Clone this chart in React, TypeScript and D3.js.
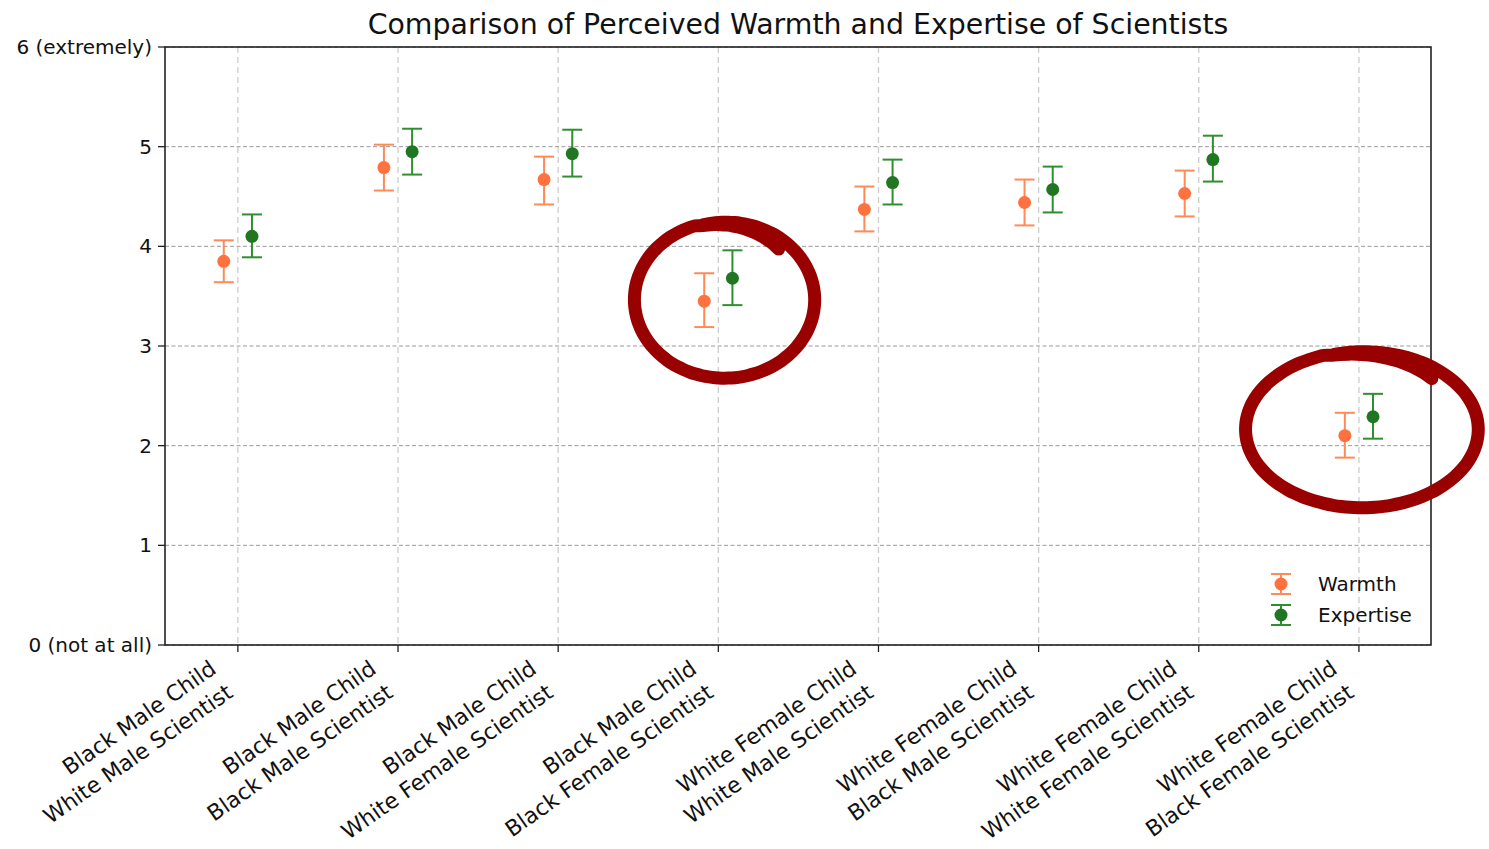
import React, { useEffect, useRef } from "react";
import * as d3 from "d3";

const childLabels = [
  "Black Male Child", "Black Male Child", "Black Male Child", "Black Male Child",
  "White Female Child", "White Female Child", "White Female Child", "White Female Child",
];
const scientistLabels = [
  "White Male Scientist", "Black Male Scientist", "White Female Scientist", "Black Female Scientist",
  "White Male Scientist", "Black Male Scientist", "White Female Scientist", "Black Female Scientist",
];
const warmthMean = [3.85, 4.79, 4.67, 3.45, 4.37, 4.44, 4.53, 2.10];
const warmthLow = [3.64, 4.56, 4.42, 3.19, 4.15, 4.21, 4.30, 1.88];
const warmthHigh = [4.06, 5.02, 4.90, 3.73, 4.60, 4.67, 4.76, 2.33];
const expertiseMean = [4.10, 4.95, 4.93, 3.68, 4.64, 4.57, 4.87, 2.29];
const expertiseLow = [3.89, 4.72, 4.70, 3.41, 4.42, 4.34, 4.65, 2.07];
const expertiseHigh = [4.32, 5.18, 5.17, 3.96, 4.87, 4.80, 5.11, 2.52];
const yTicks = [0, 1, 2, 3, 4, 5, 6];
const yTickLabels = ["0 (not at all)", "1", "2", "3", "4", "5", "6 (extremely)"];
// hand-drawn highlight annotations: centre in data units, radii in data units
const highlightCx = [3.04, 7.02];
const highlightCy = [3.47, 2.17];
const highlightRx = [0.55, 0.71];
const highlightRy = [0.77, 0.77];

const W = 1489;
const H = 849;
const FONT = "DejaVu Sans, sans-serif";

export default function App() {
  const ref = useRef<SVGSVGElement>(null);
  useEffect(() => {
    const svg = d3.select(ref.current);
    svg.selectAll("*").remove();
    const left = 165, right = 1431, top = 47, bottom = 645;
    const n = childLabels.length;
    const x = d3.scaleLinear().domain([-0.455, n - 1 + 0.45]).range([left, right]);
    const y = d3.scaleLinear().domain([0, 6]).range([bottom, top]);
    const off = 0.088;

    // grid
    const g = svg.append("g");
    g.selectAll("line.vg").data(d3.range(n)).join("line")
      .attr("x1", (i) => x(i)).attr("x2", (i) => x(i))
      .attr("y1", top).attr("y2", bottom)
      .attr("stroke", "#cccccc").attr("stroke-width", 1.3).attr("stroke-dasharray", "6,4");
    g.selectAll("line.hg").data(yTicks).join("line")
      .attr("x1", left).attr("x2", right)
      .attr("y1", (d) => y(d)).attr("y2", (d) => y(d))
      .attr("stroke", "#9a9a9a").attr("stroke-width", 1).attr("stroke-dasharray", "4,2.5");

    // axes frame
    svg.append("rect").attr("x", left).attr("y", top).attr("width", right - left).attr("height", bottom - top)
      .attr("fill", "none").attr("stroke", "#222").attr("stroke-width", 1.6);

    // y ticks
    const yt = svg.append("g");
    yTicks.forEach((t, i) => {
      yt.append("line").attr("x1", left - 7).attr("x2", left).attr("y1", y(t)).attr("y2", y(t))
        .attr("stroke", "#222").attr("stroke-width", 1.3);
      yt.append("text").attr("x", left - 13).attr("y", y(t)).attr("dy", "0.35em")
        .attr("text-anchor", "end").attr("font-family", FONT).attr("font-size", 20).attr("fill", "#111")
        .text(yTickLabels[i]);
    });

    // x ticks
    const xt = svg.append("g");
    d3.range(n).forEach((i) => {
      xt.append("line").attr("x1", x(i)).attr("x2", x(i)).attr("y1", bottom).attr("y2", bottom + 7)
        .attr("stroke", "#222").attr("stroke-width", 1.3);
      const tg = xt.append("g").attr("transform", `translate(${x(i) - 30},${bottom + 13}) rotate(-35)`);
      const txt = tg.append("text").attr("text-anchor", "end").attr("font-family", FONT)
        .attr("font-size", 22).attr("fill", "#111");
      txt.append("tspan").attr("x", 0).attr("y", 17).text(childLabels[i]);
      txt.append("tspan").attr("x", 0).attr("y", 46).text(scientistLabels[i]);
    });

    const series = [
      { mean: warmthMean, lo: warmthLow, hi: warmthHigh, dx: -off, line: "#ff8a58", dot: "#ff7240" },
      { mean: expertiseMean, lo: expertiseLow, hi: expertiseHigh, dx: off, line: "#2f8f2f", dot: "#217621" },
    ];
    const cap = 10;
    series.forEach((s) => {
      const sg = svg.append("g");
      s.mean.forEach((m, i) => {
        const cx = x(i + s.dx);
        sg.append("line").attr("x1", cx).attr("x2", cx).attr("y1", y(s.lo[i])).attr("y2", y(s.hi[i]))
          .attr("stroke", s.line).attr("stroke-width", 2);
        [s.lo[i], s.hi[i]].forEach((v) => {
          sg.append("line").attr("x1", cx - cap).attr("x2", cx + cap).attr("y1", y(v)).attr("y2", y(v))
            .attr("stroke", s.line).attr("stroke-width", 2);
        });
        sg.append("circle").attr("cx", cx).attr("cy", y(m)).attr("r", 6.5).attr("fill", s.dot);
      });
    });

    // legend
    const legendNames = ["Warmth", "Expertise"];
    const lg = svg.append("g");
    series.forEach((s, i) => {
      const ly = 584 + i * 31;
      const lx = 1281;
      lg.append("line").attr("x1", lx).attr("x2", lx).attr("y1", ly - 10).attr("y2", ly + 10)
        .attr("stroke", s.line).attr("stroke-width", 2);
      [ly - 10, ly + 10].forEach((yy) => {
        lg.append("line").attr("x1", lx - cap).attr("x2", lx + cap).attr("y1", yy).attr("y2", yy)
          .attr("stroke", s.line).attr("stroke-width", 2);
      });
      lg.append("circle").attr("cx", lx).attr("cy", ly).attr("r", 6.5).attr("fill", s.dot);
      lg.append("text").attr("x", 1318).attr("y", ly).attr("dy", "0.35em")
        .attr("font-family", FONT).attr("font-size", 20).attr("fill", "#111").text(legendNames[i]);
    });

    // title
    svg.append("text").attr("x", (left + right) / 2 + 0).attr("y", 34).attr("text-anchor", "middle")
      .attr("font-family", FONT).attr("font-size", 28.4).attr("fill", "#111")
      .text("Comparison of Perceived Warmth and Expertise of Scientists");

    // hand-drawn highlights
    highlightCx.forEach((hx, k) => {
      const cx = x(hx), cy = y(highlightCy[k]);
      const rx = x(highlightRx[k]) - x(0), ry = y(0) - y(highlightRy[k]);
      const start = -Math.PI * 0.58;
      const end = start + Math.PI * 2 + Math.PI * 0.32;
      const pts: [number, number][] = d3.range(0, 1.0001, 0.01).map((t) => {
        const a = start + (end - start) * t;
        const shrink = t > 0.85 ? 1 - (t - 0.85) * 0.7 : 1 + 0.03 * Math.sin(t * Math.PI);
        return [cx + rx * shrink * Math.cos(a), cy + ry * shrink * Math.sin(a)];
      });
      svg.append("path").attr("d", d3.line().curve(d3.curveCatmullRom)(pts))
        .attr("fill", "none").attr("stroke", "#990000").attr("stroke-width", 13)
        .attr("stroke-linecap", "round").attr("stroke-linejoin", "round");
    });
  }, []);
  return (
    <svg ref={ref} width={W} height={H}
      style={{ position: "absolute", left: 0, top: 0, background: "#fff" }} />
  );
}
